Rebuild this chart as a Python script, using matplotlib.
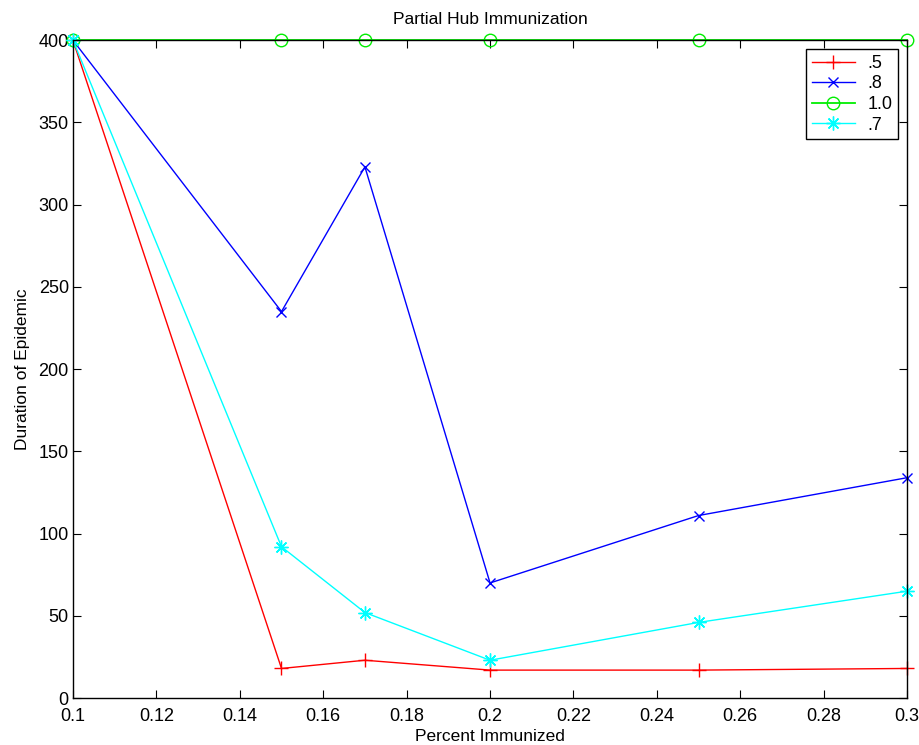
import matplotlib
matplotlib.use("Agg")
import matplotlib.pyplot as plt

plt.rcParams["font.family"] = ["Liberation Sans", "DejaVu Sans"]

x = [0.1, 0.15, 0.17, 0.2, 0.25, 0.3]
y_05 = [400, 18, 23, 17, 17, 18]
y_08 = [400, 235, 323, 70, 111, 134]
y_10 = [400, 400, 400, 400, 400, 400]
y_07 = [400, 92, 52, 23, 46, 65]

fig = plt.figure(figsize=(9.2, 7.45), dpi=100)
ax = fig.add_axes([0.0793, 0.063, 0.9067, 0.883])

ax.plot(x, y_05, color="red", marker="+", markersize=10, lw=1, label=".5", clip_on=False)
ax.plot(x, y_08, color="blue", marker="x", markersize=7, lw=1, label=".8", clip_on=False)
ax.plot(x, y_10, color="#00ee00", marker="o", markersize=9, mfc="none", lw=1.3, label="1.0", clip_on=False)
ax.plot(x, y_07, color="cyan", marker=(8, 2, 0), markersize=10, lw=1, label=".7", clip_on=False)

ax.set_xlim(0.1, 0.3)
ax.set_ylim(0, 400)
ax.set_xticks([0.1, 0.12, 0.14, 0.16, 0.18, 0.2, 0.22, 0.24, 0.26, 0.28, 0.3])
ax.set_xticklabels(["0.1", "0.12", "0.14", "0.16", "0.18", "0.2", "0.22", "0.24", "0.26", "0.28", "0.3"])
ax.set_yticks(range(0, 401, 50))
ax.tick_params(direction="in", top=True, right=True, length=6, labelsize=13)
ax.tick_params(axis="x", pad=7)
ax.tick_params(axis="y", pad=3)
for s in ax.spines.values():
    s.set_linewidth(1)

ax.set_xlabel("Percent Immunized", fontsize=12.5, labelpad=3)
ax.set_ylabel("Duration of Epidemic", fontsize=12.5, labelpad=6)
ax.set_title("Partial Hub Immunization", fontsize=12.5, pad=12)

leg = ax.legend(loc="upper right", bbox_to_anchor=(0.989, 0.986), fontsize=13,
                fancybox=False, edgecolor="black", framealpha=1,
                handlelength=2.4, handletextpad=0.7, borderpad=0.3,
                labelspacing=0.2, borderaxespad=0)
leg.get_frame().set_linewidth(1)

fig.savefig("out.png", dpi=100)
